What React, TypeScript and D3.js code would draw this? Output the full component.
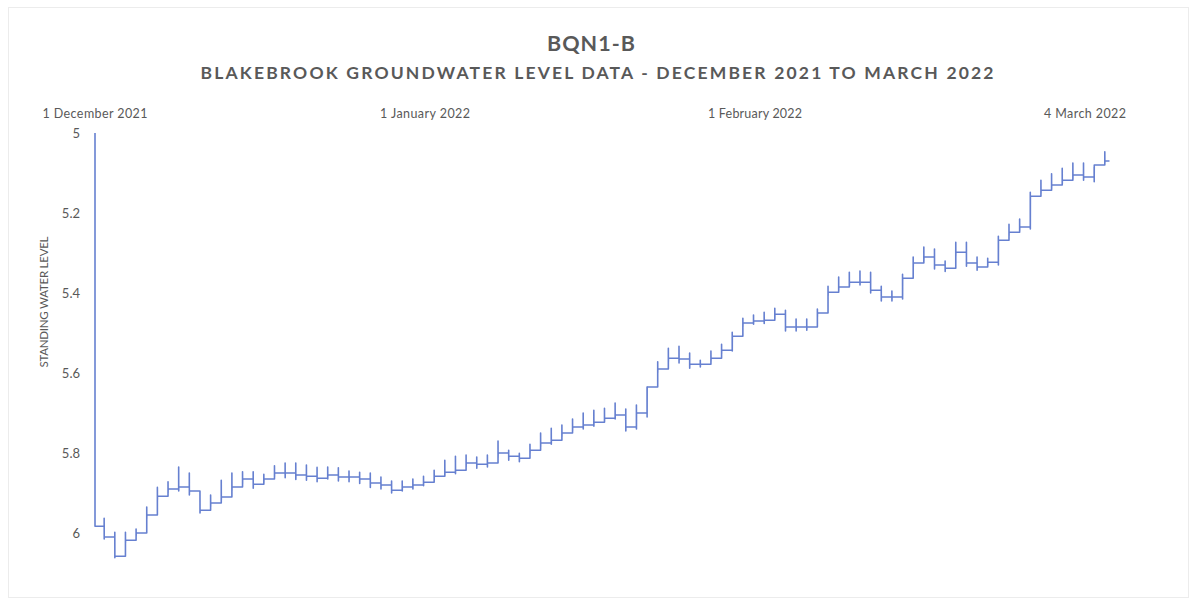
import React from "react";
import * as d3 from "d3";

// ---- data ----
const chartTitle = "BQN1-B";
const chartSubtitle = "BLAKEBROOK GROUNDWATER LEVEL DATA - DECEMBER 2021 TO MARCH 2022";
const yAxisTitle = "STANDING WATER LEVEL";

const xTickDates = ["2021-12-01", "2022-01-01", "2022-02-01", "2022-03-04"];
const xTickLabels = ["1 December 2021", "1 January 2022", "1 February 2022", "4 March 2022"];
const yTicks = [5, 5.2, 5.4, 5.6, 5.8, 6];

const startDate = "2021-12-01";
// first logged reading (clipped at the top of the axis)
const firstReading = 5.0;
// daily standing water level, one per day from 1 Dec 2021
const dailyLevel = [
  5.983, 6.010, 6.058, 6.018, 6.000, 5.955, 5.908, 5.890, 5.885, 5.895,
  5.943, 5.925, 5.910, 5.885, 5.865, 5.878, 5.865, 5.850, 5.850, 5.855,
  5.858, 5.863, 5.855, 5.860, 5.860, 5.865, 5.875, 5.880, 5.893, 5.885,
  5.880, 5.873, 5.858, 5.848, 5.843, 5.825, 5.828, 5.825, 5.800, 5.808,
  5.813, 5.793, 5.775, 5.768, 5.750, 5.735, 5.730, 5.723, 5.713, 5.705,
  5.735, 5.700, 5.635, 5.590, 5.563, 5.565, 5.578, 5.578, 5.563, 5.543,
  5.508, 5.475, 5.470, 5.468, 5.453, 5.485, 5.485, 5.485, 5.450, 5.398,
  5.385, 5.373, 5.373, 5.393, 5.410, 5.410, 5.363, 5.325, 5.310, 5.330,
  5.338, 5.298, 5.325, 5.335, 5.323, 5.268, 5.248, 5.235, 5.158, 5.143,
  5.130, 5.118, 5.105, 5.110, 5.080,
];
// shallowest reading of the nightly spike at the end of each day
const spikeMin = [
  5.963, 5.998, 5.998, 5.990, 5.935, 5.886, 5.872, 5.835, 5.850, 5.895,
  5.905, 5.868, 5.850, 5.847, 5.847, 5.853, 5.832, 5.825, 5.825, 5.830,
  5.836, 5.835, 5.837, 5.845, 5.848, 5.850, 5.860, 5.870, 5.870, 5.865,
  5.858, 5.843, 5.818, 5.808, 5.805, 5.810, 5.805, 5.770, 5.793, 5.801,
  5.778, 5.750, 5.738, 5.730, 5.715, 5.700, 5.693, 5.688, 5.675, 5.690,
  5.680, 5.635, 5.572, 5.538, 5.533, 5.550, 5.568, 5.545, 5.528, 5.498,
  5.463, 5.455, 5.448, 5.438, 5.443, 5.465, 5.465, 5.440, 5.383, 5.360,
  5.348, 5.345, 5.348, 5.383, 5.395, 5.353, 5.310, 5.285, 5.290, 5.320,
  5.273, 5.273, 5.310, 5.313, 5.258, 5.228, 5.215, 5.148, 5.118, 5.102,
  5.088, 5.075, 5.075, 5.085, 5.047,
];
// deepest reading of the same spike
const spikeMax = [
  6.015, 6.062, 6.025, 6.008, 5.965, 5.918, 5.900, 5.895, 5.905, 5.950,
  5.935, 5.918, 5.895, 5.878, 5.888, 5.875, 5.860, 5.862, 5.866, 5.868,
  5.872, 5.865, 5.870, 5.872, 5.876, 5.886, 5.890, 5.900, 5.895, 5.890,
  5.882, 5.868, 5.858, 5.852, 5.835, 5.838, 5.835, 5.812, 5.818, 5.822,
  5.802, 5.785, 5.778, 5.760, 5.745, 5.740, 5.733, 5.722, 5.715, 5.745,
  5.740, 5.710, 5.600, 5.572, 5.575, 5.588, 5.585, 5.572, 5.553, 5.545,
  5.485, 5.478, 5.476, 5.465, 5.495, 5.495, 5.493, 5.460, 5.408, 5.395,
  5.383, 5.380, 5.400, 5.420, 5.420, 5.415, 5.335, 5.320, 5.340, 5.346,
  5.308, 5.333, 5.343, 5.332, 5.330, 5.258, 5.245, 5.240, 5.152, 5.140,
  5.128, 5.115, 5.118, 5.122, 5.075,
];
const lastReading = 5.07;

// ---- layout ----
const W = 1196;
const H = 604;
const plotLeft = 95;
const plotRight = 1085;
const plotTop = 133;
const plotBottom = 533;

const parse = d3.utcParse("%Y-%m-%d");
const DAY = 24 * 3600 * 1000;

export default function App() {
  const x = d3
    .scaleUtc()
    .domain([parse(xTickDates[0])!, parse(xTickDates[xTickDates.length - 1])!])
    .range([plotLeft, plotRight]);
  const y = d3.scaleLinear().domain([5, 6]).range([plotTop, plotBottom]);

  const t0 = parse(startDate)!.getTime();
  const pts: [Date, number][] = [];
  pts.push([new Date(t0), firstReading]);
  dailyLevel.forEach((lv, i) => {
    const dayStart = t0 + i * DAY;
    const spikeT = dayStart + DAY - 0.14 * DAY;
    pts.push([new Date(dayStart), lv]);
    pts.push([new Date(spikeT), lv]);
    pts.push([new Date(spikeT), spikeMin[i]]);
    pts.push([new Date(spikeT + 0.005 * DAY), spikeMax[i]]);
    const next = i + 1 < dailyLevel.length ? dailyLevel[i + 1] : lastReading;
    pts.push([new Date(spikeT + 0.01 * DAY), next]);
  });
  pts.push([new Date(t0 + dailyLevel.length * DAY + 0.3 * DAY), lastReading]);

  const line = d3
    .line<[Date, number]>()
    .x((d) => x(d[0]))
    .y((d) => y(Math.max(5, d[1])));

  const font = "Lato, 'Open Sans', 'Liberation Sans', sans-serif";
  const grey = "#595959";
  const tickLabelWidths = [105, 90, 94, 82];

  return (
    <div style={{ position: "fixed", left: 0, top: 0, width: W, height: H, background: "#fff" }}>
      <svg width={W} height={H} style={{ display: "block" }}>
        <rect x={0} y={0} width={W} height={H} fill="#fff" />
        <rect x={8.5} y={7.5} width={W - 16} height={H - 14} fill="none" stroke="#ececec" strokeWidth={1} />
        <text
          x={591}
          y={51}
          textAnchor="middle"
          fontFamily={font}
          fontSize={21.5}
          fontWeight={700}
          fill={grey}
          textLength={88}
          lengthAdjust="spacing"
        >
          {chartTitle}
        </text>
        <text
          x={597}
          y={79}
          textAnchor="middle"
          fontFamily={font}
          fontSize={17.5}
          fontWeight={700}
          fill={grey}
          textLength={793}
          lengthAdjust="spacing"
        >
          {chartSubtitle}
        </text>
        {xTickLabels.map((lab, i) => (
          <text
            key={lab}
            x={x(parse(xTickDates[i])!)}
            y={118}
            textAnchor="middle"
            fontFamily={font}
            fontSize={12.5}
            fill={grey}
            textLength={tickLabelWidths[i]}
            lengthAdjust="spacing"
          >
            {lab}
          </text>
        ))}
        {yTicks.map((v) => (
          <text
            key={v}
            x={80}
            y={y(v) + 4.5}
            textAnchor="end"
            fontFamily={font}
            fontSize={13}
            fill={grey}
          >
            {String(v)}
          </text>
        ))}
        <text
          transform={`translate(48,${302}) rotate(-90)`}
          textAnchor="middle"
          fontFamily={font}
          fontSize={11.5}
          fill={grey}
          textLength={131}
          lengthAdjust="spacing"
        >
          {yAxisTitle}
        </text>
        <path d={line(pts) ?? ""} fill="none" stroke="#6680d0" strokeWidth={1.6} strokeLinejoin="round" />
      </svg>
    </div>
  );
}
